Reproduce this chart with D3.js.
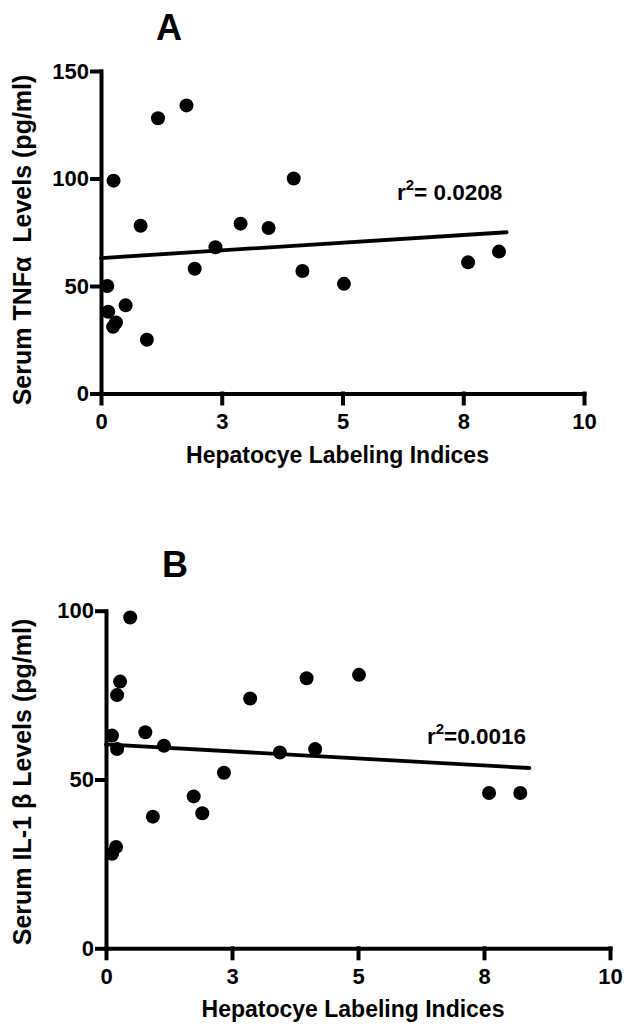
<!DOCTYPE html>
<html>
<head>
<meta charset="utf-8">
<script src="https://cdn.jsdelivr.net/npm/d3@7"></script>
<style>
  body { margin: 0; background: #fff; }
  svg { font-family: "Liberation Sans", Arial, sans-serif; font-weight: bold; }
  text { white-space: pre; }
</style>
</head>
<body>
<script>
// x ticks (GraphPad rounds the 2.5 steps on the labels)
const xTickValues = [0, 2.5, 5, 7.5, 10];
const xTickLabels = ["0", "3", "5", "8", "10"];

// Panel A - TNF alpha
const yTicksA = [0, 50, 100, 150];
const labelingA = [0.26, 1.18, 1.77, 3.99, 0.82, 2.89, 3.47, 2.37, 1.94, 4.17, 0.13, 0.51, 0.15, 0.31, 0.25, 0.95, 5.03, 7.6, 8.24];
const tnfA = [99, 128, 134, 100, 78, 79, 77, 68, 58, 57, 50, 41, 38, 33, 31, 25, 51, 61, 66];
const fitXA = [0, 8.4];
const fitYA = [63, 75];

// Panel B - IL-1 beta
const yTicksB = [0, 50, 100];
const labelingB = [0.48, 0.28, 0.22, 3.98, 2.86, 0.12, 0.78, 0.22, 1.15, 3.45, 4.15, 2.34, 5.02, 1.74, 1.91, 0.93, 0.2, 0.12, 7.6, 8.22];
const il1B = [98, 79, 75, 80, 74, 63, 64, 59, 60, 58, 59, 52, 81, 45, 40, 39, 30, 28, 46, 46];
const fitXB = [0, 8.4];
const fitYB = [60.4, 53.4];

const width = 624, height = 1026;

const svg = d3.select("body")
  .append("svg")
  .attr("width", width)
  .attr("height", height);

function drawPanel(p) {
  const x = d3.scaleLinear().domain([0, 10]).range([p.left, p.right]);
  const y = d3.scaleLinear().domain([0, p.yMax]).range([p.bottom, p.top]);
  const g = svg.append("g");

  // axes
  const xAxis = d3.axisBottom(x)
    .tickValues(xTickValues)
    .tickFormat((d, i) => xTickLabels[i])
    .tickSize(10).tickSizeOuter(0).tickPadding(10);
  const yAxis = d3.axisLeft(y)
    .tickValues(p.yTicks)
    .tickSize(9).tickSizeOuter(0).tickPadding(3);

  const gx = g.append("g").attr("transform", `translate(0,${p.bottom})`).call(xAxis);
  const gy = g.append("g").attr("transform", `translate(${p.left},0)`).call(yAxis);
  [gx, gy].forEach(a => {
    a.selectAll("path, line").attr("stroke", "#000").attr("stroke-width", 4).attr("stroke-linecap", "square");
    a.selectAll("text")
      .attr("fill", "#000")
      .style("font-size", "22px")
      .style("font-weight", "bold")
      .style("font-family", '"Liberation Sans", Arial, sans-serif');
  });

  // regression line
  g.append("line")
    .attr("x1", x(p.fitX[0])).attr("y1", y(p.fitY[0]))
    .attr("x2", x(p.fitX[1])).attr("y2", y(p.fitY[1]))
    .attr("stroke", "#000").attr("stroke-width", 3.8).attr("stroke-linecap", "round");

  // points
  g.selectAll("circle")
    .data(p.xs.map((v, i) => ({ x: v, y: p.ys[i] })))
    .join("circle")
    .attr("cx", d => x(d.x))
    .attr("cy", d => y(d.y))
    .attr("r", 7)
    .attr("fill", "#000");

  // panel letter
  g.append("text")
    .attr("x", p.titleX).attr("y", p.titleY)
    .attr("text-anchor", "middle")
    .style("font-size", "36px")
    .text(p.title);

  // axis labels
  g.append("text")
    .attr("x", (p.left + p.right) / 2 + p.xLabelShift)
    .attr("y", p.bottom + 69)
    .attr("text-anchor", "middle")
    .style("font-size", "23px")
    .text("Hepatocye Labeling Indices");

  g.append("text")
    .attr("transform", `translate(31,${p.yLabelCenter}) rotate(-90)`)
    .attr("text-anchor", "middle")
    .style("font-size", "25px")
    .text(p.yLabel);

  // r squared
  const r = g.append("text")
    .attr("x", p.rX).attr("y", p.rY)
    .style("font-size", "22.5px");
  r.append("tspan").text("r");
  r.append("tspan").attr("dy", -10).style("font-size", "15px").text("2");
  r.append("tspan").attr("dy", 10).text(p.rText);
}

drawPanel({
  left: 101, right: 584, top: 71, bottom: 393.5, yMax: 150, yTicks: yTicksA,
  xs: labelingA, ys: tnfA, fitX: fitXA, fitY: fitYA,
  title: "A", titleX: 169, titleY: 40,
  yLabel: "Serum TNFα  Levels (pg/ml)", yLabelCenter: 240, xLabelShift: -5,
  rX: 397, rY: 200, rText: "= 0.0208"
});

drawPanel({
  left: 106, right: 610, top: 610.7, bottom: 948.3, yMax: 100, yTicks: yTicksB,
  xs: labelingB, ys: il1B, fitX: fitXB, fitY: fitYB,
  title: "B", titleX: 175, titleY: 577,
  yLabel: "Serum IL-1 β Levels (pg/ml)", yLabelCenter: 782, xLabelShift: -5,
  rX: 427, rY: 744, rText: "=0.0016"
});
</script>
</body>
</html>
